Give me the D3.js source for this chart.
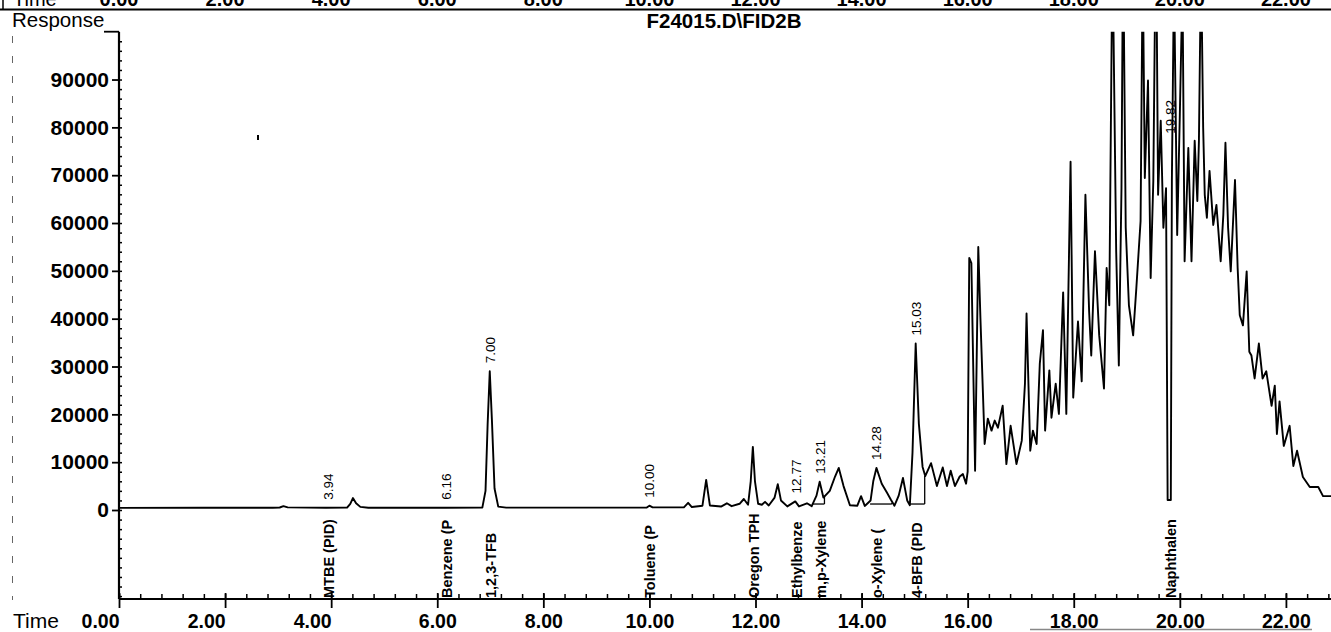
<!DOCTYPE html>
<html>
<head>
<meta charset="utf-8">
<script src="https://cdn.jsdelivr.net/npm/d3@7"></script>
<style>
  body { margin: 0; background: #fff; }
  svg { display: block; font-family: "Liberation Sans", Arial, Helvetica, sans-serif; }
</style>
</head>
<body>
<svg id="chart" width="1331" height="632"></svg>
<script>
// ---- data ----
const traceTimes = [
  0.00, 1.60, 2.90, 3.03, 3.10, 3.18, 3.90, 4.30, 4.36, 4.41, 4.47, 4.55, 4.70, 6.16,
  6.85, 6.91, 6.95, 6.99, 7.03, 7.08, 7.15, 7.30, 9.95, 10.00, 10.06, 10.65, 10.73, 10.80,
  11.00, 11.07, 11.14, 11.35, 11.46, 11.55, 11.70, 11.78, 11.86, 11.91, 11.95, 11.99, 12.05,
  12.12, 12.18, 12.25, 12.36, 12.42, 12.48, 12.60, 12.75, 12.82, 12.97, 13.06, 13.15, 13.21,
  13.28, 13.40, 13.50, 13.57, 13.66, 13.78, 13.92, 13.99, 14.06, 14.17, 14.22, 14.28, 14.38,
  14.48, 14.55, 14.62, 14.70, 14.78, 14.86, 14.91, 14.96, 15.02, 15.08, 15.15, 15.20, 15.31,
  15.42, 15.53, 15.61, 15.68, 15.76, 15.85, 15.91, 15.97, 16.00, 16.03, 16.07, 16.14, 16.20,
  16.24, 16.32, 16.38, 16.45, 16.51, 16.57, 16.66, 16.73, 16.81, 16.92, 17.02, 17.08, 17.11,
  17.18, 17.23, 17.30, 17.36, 17.42, 17.46, 17.54, 17.58, 17.66, 17.72, 17.80, 17.86, 17.94,
  17.99, 18.08, 18.15, 18.22, 18.29, 18.33, 18.40, 18.48, 18.57, 18.62, 18.67, 18.73, 18.80,
  18.85, 18.90, 18.93, 18.98, 19.04, 19.12, 19.18, 19.26, 19.30, 19.34, 19.40, 19.45, 19.50,
  19.55, 19.59, 19.64, 19.69, 19.74, 19.77, 19.83, 19.85, 19.89, 19.95, 20.00, 20.05, 20.09,
  20.16, 20.22, 20.28, 20.33, 20.36, 20.40, 20.44, 20.47, 20.51, 20.56, 20.63, 20.69, 20.77,
  20.82, 20.86, 20.91, 20.96, 21.04, 21.09, 21.13, 21.19, 21.26, 21.31, 21.35, 21.41, 21.49,
  21.56, 21.63, 21.73, 21.79, 21.83, 21.88, 21.96, 22.07, 22.14, 22.21, 22.32, 22.45, 22.61,
  22.70, 22.85
];
const traceResponse = [
  450, 460, 480, 520, 800, 540, 480, 500, 1300, 2500, 1400, 650, 480, 470,
  500, 4000, 18000, 29000, 19000, 4500, 700, 500, 520, 900, 540, 560, 1500, 620,
  900, 6300, 950, 720, 1400, 800, 1300, 2300, 1100, 6000, 13200, 6000, 1300,
  1100, 1700, 950, 2600, 5400, 2000, 750, 1800, 750, 1400, 800, 3000, 5900,
  2600, 4000, 7000, 8800, 5000, 1000, 900, 2900, 850, 2000, 6000, 8800, 5500,
  3600, 2200, 900, 3000, 6700, 2000, 1000, 12000, 34800, 18000, 9000, 7100, 9800,
  5000, 8900, 5000, 8200, 5000, 7000, 7500, 5500, 8000, 52700, 51600, 8200, 55000,
  40300, 13800, 19100, 16600, 18700, 17200, 21800, 9600, 17600, 9600, 14500, 26400, 41100,
  12400, 16600, 13800, 30600, 37600, 16600, 29200, 19300, 26400, 20100, 45500, 20100, 72800,
  23500, 39400, 26900, 65900, 41500, 32300, 54100, 36500, 25400, 50600, 42800, 118000, 54100,
  30200, 67300, 120000, 59000, 42800, 36500, 46400, 60400, 115000, 69400, 89800, 48500, 68800,
  125000, 65900, 81400, 59000, 67300, 2100, 2100, 68800, 112000, 57500, 82700, 110000, 52000,
  75700, 52000, 77200, 64600, 77200, 115000, 79900, 65900, 61100, 70900, 59600, 63800, 52000,
  61700, 76800, 59000, 49900, 69000, 50600, 40700, 38600, 49900, 33100, 32300, 27500, 34800,
  27500, 29000, 21800, 26000, 15900, 22700, 13400, 17600, 9200, 12400, 6900, 4800, 4800,
  2900, 2900
];

// retention time labels printed above peaks
const rtTimes = [3.94, 6.16, 7.00, 10.00, 12.77, 13.21, 14.28, 15.03, 19.82];
const rtTexts = ["3.94", "6.16", "7.00", "10.00", "12.77", "13.21", "14.28", "15.03", "19.82"];
const rtPeaks = [450, 450, 29000, 900, 1800, 5900, 8800, 34800, 77000];

// compound names printed under the baseline
const compoundNames = ["MTBE (PID)", "Benzene (P", "1,2,3-TFB", "Toluene (P", "Oregon TPH",
  "Ethylbenze", "m,p-Xylene", "o-Xylene (", "4-BFB (PID", "Naphthalen"];
const compoundTimes = [3.94, 6.16, 7.00, 10.00, 11.95, 12.77, 13.21, 14.28, 15.03, 19.82];

// integration baselines drawn by the data system
const intStarts = [13.08, 14.16, 14.91];
const intEnds = [13.30, 14.57, 15.19];
const intEndLevels = [3000, 1500, 7100];
const intBaseLevel = 1250;

const xTicks = [0, 2, 4, 6, 8, 10, 12, 14, 16, 18, 20, 22];
const yTicks = [0, 10000, 20000, 30000, 40000, 50000, 60000, 70000, 80000, 90000];

// ---- drawing ----
const svg = d3.select("#chart");
const W = 1331, H = 632;
const axisY = 599;

const x = d3.scaleLinear().domain([0, 22.85]).range([119, 1331]);
const y = d3.scaleLinear().domain([0, 100000]).range([510, 31.7]);

svg.append("rect").attr("width", W).attr("height", H).attr("fill", "#fff");

// clipped header of the previous page strip
svg.append("line").attr("x1", 0).attr("x2", W).attr("y1", 9.5).attr("y2", 9.5)
  .attr("stroke", "#000").attr("stroke-width", 1.8);
svg.append("line").attr("x1", 3).attr("x2", 3).attr("y1", 0).attr("y2", 10)
  .attr("stroke", "#000").attr("stroke-width", 1.5);
svg.append("text").attr("x", 13).attr("y", 6).attr("font-size", 20).text("Time");
svg.selectAll(".toplab").data(xTicks).enter().append("text")
  .attr("class", "toplab")
  .attr("x", d => x(d))
  .attr("y", 6)
  .attr("text-anchor", "middle")
  .attr("font-size", 20).attr("font-weight", "bold")
  .text(d => d.toFixed(2));

// scan artefacts on the left margin
svg.append("line").attr("x1", 12.5).attr("x2", 12.5).attr("y1", 36).attr("y2", 600)
  .attr("stroke", "#666").attr("stroke-width", 1).attr("stroke-dasharray", "7,13");
svg.append("rect").attr("x", 257).attr("y", 135).attr("width", 2).attr("height", 5).attr("fill", "#000");

// titles
svg.append("text").attr("x", 12).attr("y", 27).attr("font-size", 20.5).text("Response");
svg.append("text").attr("x", 724).attr("y", 28).attr("text-anchor", "middle")
  .attr("font-size", 20.5).attr("font-weight", "bold").text("F24015.D\\FID2B");

// y axis
svg.append("line").attr("x1", 119).attr("x2", 119).attr("y1", y(100000)).attr("y2", axisY)
  .attr("stroke", "#000").attr("stroke-width", 2.2);
svg.append("line").attr("x1", 104).attr("x2", 119).attr("y1", y(100000)).attr("y2", y(100000))
  .attr("stroke", "#000").attr("stroke-width", 1.8);

const yAxis = svg.append("g")
  .attr("transform", "translate(119,0)")
  .call(d3.axisLeft(y).tickValues(yTicks).tickSize(7).tickPadding(3).tickFormat(d3.format("d")));
yAxis.select(".domain").remove();
yAxis.attr("font-family", null).attr("font-size", null);
yAxis.selectAll(".tick line").attr("stroke-width", 1.8);
yAxis.selectAll("text").attr("font-size", 21).attr("font-weight", "bold").attr("fill", "#000");

const yMinor = svg.append("g")
  .attr("transform", "translate(119,0)")
  .call(d3.axisRight(y).tickValues(d3.range(-18000, 100000, 2000)).tickSize(3).tickFormat(""));
yMinor.select(".domain").remove();
yMinor.selectAll(".tick line").attr("stroke-width", 1.5);

// x axis
svg.append("line").attr("x1", 119).attr("x2", W).attr("y1", axisY).attr("y2", axisY)
  .attr("stroke", "#000").attr("stroke-width", 2.2);

const xAxis = svg.append("g")
  .attr("transform", `translate(0,${axisY})`)
  .call(d3.axisBottom(x).tickValues(xTicks).tickSize(9).tickFormat(d => d.toFixed(2)));
xAxis.select(".domain").remove();
xAxis.attr("font-family", null).attr("font-size", null);
xAxis.selectAll(".tick line").attr("y1", -6).attr("y2", 9).attr("stroke-width", 1.8);
xAxis.selectAll("text")
  .attr("y", 29).attr("dy", 0)
  .attr("font-size", 19.5).attr("font-weight", "bold").attr("fill", "#000")
  .attr("text-anchor", d => d <= 4 ? "end" : "middle");

const xMinor = svg.append("g")
  .attr("transform", `translate(0,${axisY})`)
  .call(d3.axisTop(x).tickValues(d3.range(0, 22.85, 0.4)).tickSize(5).tickFormat(""));
xMinor.select(".domain").remove();
xMinor.selectAll(".tick line").attr("stroke-width", 1.5);

svg.append("text").attr("x", 13).attr("y", 628).attr("font-size", 21).text("Time");
svg.append("line").attr("x1", 1030).attr("x2", 1312).attr("y1", 629.5).attr("y2", 629.5)
  .attr("stroke", "#888").attr("stroke-width", 1.5);

// trace
svg.append("clipPath").attr("id", "plotclip")
  .append("rect").attr("x", 119).attr("y", y(100000)).attr("width", W - 119).attr("height", axisY - y(100000));

const trace = traceTimes.map((t, i) => ({ t: t, r: traceResponse[i] }));
const line = d3.line().x(d => x(d.t)).y(d => y(d.r));

svg.append("path")
  .datum(trace)
  .attr("clip-path", "url(#plotclip)")
  .attr("d", line)
  .attr("fill", "none")
  .attr("stroke", "#000")
  .attr("stroke-width", 1.9)
  .attr("stroke-linejoin", "round");

// integration baselines
intStarts.forEach((s, i) => {
  svg.append("line")
    .attr("x1", x(s)).attr("x2", x(intEnds[i]))
    .attr("y1", y(intBaseLevel)).attr("y2", y(intBaseLevel))
    .attr("stroke", "#000").attr("stroke-width", 1.3);
  svg.append("line")
    .attr("x1", x(intEnds[i])).attr("x2", x(intEnds[i]))
    .attr("y1", y(intBaseLevel)).attr("y2", y(intEndLevels[i]))
    .attr("stroke", "#000").attr("stroke-width", 1.3);
});

// retention time labels
svg.selectAll(".rt").data(rtTimes).enter().append("text")
  .attr("class", "rt")
  .attr("transform", (d, i) => `translate(${x(d) + 5},${y(rtPeaks[i]) - 8}) rotate(-90)`)
  .attr("font-size", 13.5)
  .text((d, i) => rtTexts[i]);

// compound labels
svg.selectAll(".cmp").data(compoundTimes).enter().append("text")
  .attr("class", "cmp")
  .attr("transform", d => `translate(${x(d) + 6},${axisY - 1}) rotate(-90)`)
  .attr("font-size", 14.5)
  .attr("font-weight", "bold")
  .text((d, i) => compoundNames[i]);
</script>
</body>
</html>
